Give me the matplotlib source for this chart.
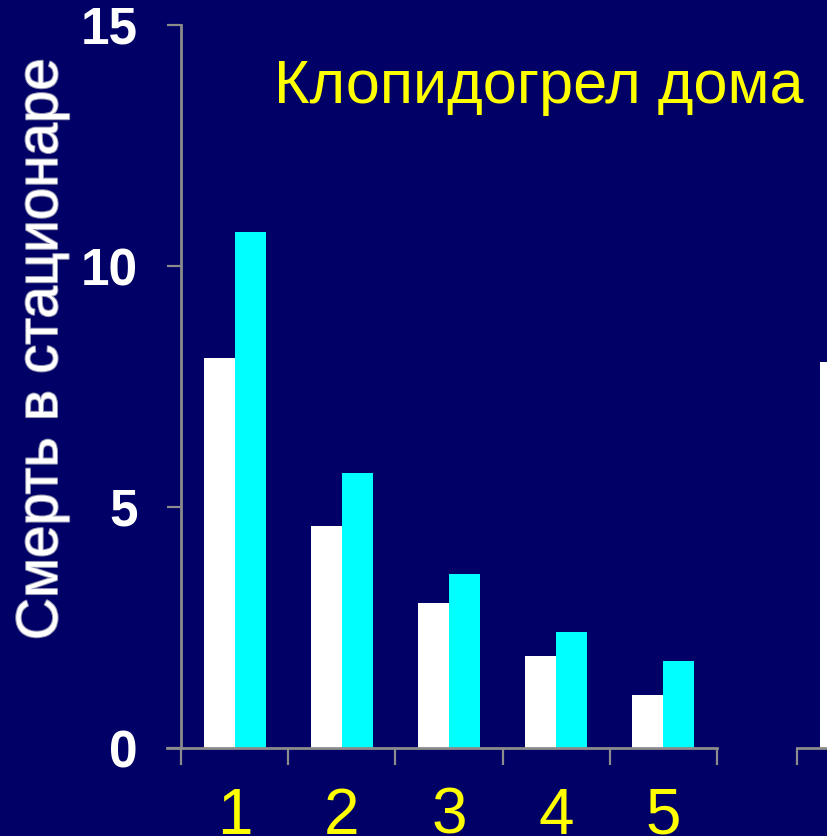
import matplotlib
matplotlib.use("Agg")
import matplotlib.pyplot as plt
import matplotlib.patheffects as pe
import numpy as np

categories = ["1", "2", "3", "4", "5"]
white_vals = [8.1, 4.6, 3.0, 1.9, 1.1]
cyan_vals = [10.7, 5.7, 3.6, 2.4, 1.8]
yticks = [0, 5, 10, 15]
second_white = [8.0]

BG = "#000066"
AX = "#8c8c8c"
W, H = 827, 836
fig = plt.figure(figsize=(W / 100, H / 100), dpi=100, facecolor=BG)
plt.rcParams['font.family'] = ['Liberation Sans', 'DejaVu Sans']

unit = 107.2  # px per category
left_px, right_px = 167, 717
bot_px, top_px = 748, 25
ax = fig.add_axes([left_px / W, (H - bot_px) / H, (right_px - left_px) / W, (bot_px - top_px) / H])
ax.set_facecolor(BG)
x = np.arange(len(categories))
bw = 0.29
ax.bar(x - bw / 2, white_vals, width=bw, color="white", zorder=2)
ax.bar(x + bw / 2, cyan_vals, width=bw, color="#00ffff", zorder=2)
ax.set_xlim(-0.5 - 14 / unit, 4.5)
ax.set_ylim(0, 15)
for s in ["top", "right"]:
    ax.spines[s].set_visible(False)
ax.spines["left"].set_position(("data", -0.5))
for s in ["left", "bottom"]:
    ax.spines[s].set_color(AX)
    ax.spines[s].set_linewidth(2)
ax.set_yticks(yticks)
ax.set_yticklabels([str(v) for v in yticks], fontsize=37, fontweight="bold", color="white")
ax.tick_params(axis="y", length=10, width=1.6, color=AX, pad=21)
ax.set_xticks(np.arange(-0.5, 5, 1.0))
ax.set_xticklabels([])
ax.tick_params(axis="x", which="major", length=12, width=1.6, color=AX)
ax.set_xticks(x, minor=True)
ax.set_xticklabels(categories, minor=True, fontsize=46, color="#ffff00")
ax.tick_params(axis="x", which="minor", length=0, pad=28)

fig.text(274 / W, 1 - 88 / H, "Клопидогрел дома", fontsize=44,
         color="#ffff00", ha="left", va="center")

fig.text(42 / W, 1 - 349 / H, "Смерть в стационаре", rotation=90, fontsize=42,
         color="white", ha="center", va="center",
         path_effects=[pe.withStroke(linewidth=1.5, foreground="#9090b0")])

# partial second chart on right
ax2 = fig.add_axes([(797 - 14) / W, (H - bot_px) / H, (right_px - left_px) / W, (bot_px - top_px) / H])
ax2.set_facecolor("none")
ax2.bar([0 - bw / 2], second_white, width=bw, color="white", zorder=2)
ax2.set_xlim(-0.5 - 14 / unit, 4.5)
ax2.set_ylim(0, 15)
for s in ["top", "right", "left"]:
    ax2.spines[s].set_visible(False)
ax2.spines["bottom"].set_color(AX)
ax2.spines["bottom"].set_linewidth(2)
ax2.spines["bottom"].set_bounds(-0.5, 4.5)
ax2.set_yticks([])
ax2.set_xticks([-0.5])
ax2.set_xticklabels([])
ax2.tick_params(axis="x", length=12, width=1.6, color=AX)

fig.savefig("out.png", dpi=100, facecolor=BG)
